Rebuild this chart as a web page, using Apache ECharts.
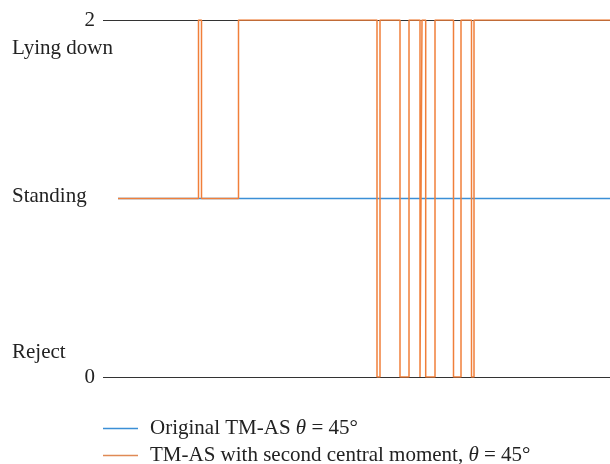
<!DOCTYPE html>
<html><head><meta charset="utf-8">
<script src="https://cdn.jsdelivr.net/npm/echarts@6/dist/echarts.min.js"></script>
<style>html,body{margin:0;padding:0;background:#fff}#c{width:610px;height:464px}</style>
</head><body><div id="c"></div>
<script>
// change points: [frame, state]
const originalX = [15, 507];
const originalY = [1, 1];
const secondX = [15, 95.5, 98.5, 135.5, 274, 277, 297, 306, 317, 319, 322.7, 332, 350.5, 358, 368.5, 371, 507];
const secondY = [1, 2, 1, 2, 0, 2, 0, 2, 0, 2, 0, 2, 0, 2, 0, 2, 2];
const yTicks = [0, 2];
const stateLabels = ['Reject', 'Standing', 'Lying down'];
const seriesNames = ['Original TM-AS {i|θ} = 45°', 'TM-AS with second central moment, {i|θ} = 45°'];

const chart = echarts.init(document.getElementById('c'));
const serif = 'Liberation Serif';
const fs = 21;
const legendText = {
  fontFamily: serif, fontSize: fs, lineHeight: 21, color: '#222', padding: [0, 0, 0, 7],
  rich: {i: {fontFamily: serif, fontSize: fs, lineHeight: 21, fontStyle: 'italic', color: '#222'}}
};
const legendBase = {orient: 'vertical', left: 103, padding: 0, icon: 'rect', itemWidth: 35, itemHeight: 1.5, textStyle: legendText};
chart.setOption({
  animation: false,
  grid: {left: 103, right: 0, top: 20, bottom: 87},
  xAxis: {type: 'value', min: 0, max: 507, show: false},
  yAxis: {
    type: 'value', min: 0, max: 2, interval: 2,
    axisLine: {show: false}, axisTick: {show: false},
    splitLine: {show: true, lineStyle: {color: '#333', width: 1}},
    axisLabel: {
      fontFamily: serif, fontSize: fs, color: '#222', margin: 8,
      formatter: v => yTicks.includes(v) ? String(v) : ''
    }
  },
  legend: [
    Object.assign({top: 418, data: [seriesNames[0]]}, legendBase),
    Object.assign({top: 445, data: [seriesNames[1]]}, legendBase)
  ],
  graphic: [
    {type: 'text', x: 12, y: 48, style: {text: stateLabels[2], font: fs + 'px ' + serif, fill: '#222', verticalAlign: 'middle'}},
    {type: 'text', x: 12, y: 196, style: {text: stateLabels[1], font: fs + 'px ' + serif, fill: '#222', verticalAlign: 'middle'}},
    {type: 'text', x: 12, y: 352, style: {text: stateLabels[0], font: fs + 'px ' + serif, fill: '#222', verticalAlign: 'middle'}}
  ],
  series: [
    {
      name: seriesNames[0], type: 'line', step: 'end', symbol: 'none',
      lineStyle: {color: '#3b8fd6', width: 1.3}, itemStyle: {color: '#3b8fd6'},
      data: originalX.map((x, i) => [x, originalY[i]]), z: 2
    },
    {
      name: seriesNames[1], type: 'line', step: 'end', symbol: 'none',
      lineStyle: {color: '#f07f3a', width: 1.5}, itemStyle: {color: '#e08a55'},
      data: secondX.map((x, i) => [x, secondY[i]]), z: 3
    }
  ]
});
</script></body></html>
